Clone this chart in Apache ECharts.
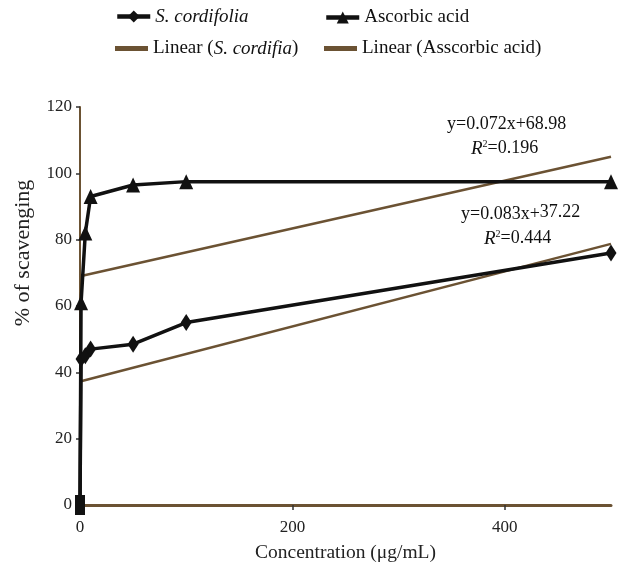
<!DOCTYPE html>
<html>
<head>
<meta charset="utf-8">
<script src="https://cdn.jsdelivr.net/npm/echarts@6/dist/echarts.min.js"></script>
<style>
html,body{margin:0;padding:0;background:#fff;}
#chart-area{width:632px;height:569px;}
</style>
</head>
<body>
<div id="chart-area"></div>
<script>
// 数据
var concentrations = [0, 1, 5, 10, 50, 100, 500];
var cordifoliaValues = [0, 44, 45, 47, 48.5, 55, 76];
var ascorbicValues = [0, 61, 82, 93, 96.5, 97.5, 97.5];
// 趋势线端点
var trendX = [0, 500];
var trendCordifolia = [37.22, 78.72];
var trendAscorbic = [68.98, 104.98];
var xTicks = [0, 200, 400];
var yTicks = [0, 20, 40, 60, 80, 100, 120];

var black = '#111';
var brown = '#6b5233';
var serif = 'Liberation Serif';

function pairs(xs, ys){
	var out = [];
	for(var i=0;i<xs.length;i++){
		if(xs[i]==0 && ys[i]==0){
			//原点处的点画成方块
			out.push({value: [xs[i], ys[i]], symbol: 'rect', symbolSize: [10, 20]});
		}else{
			out.push([xs[i], ys[i]]);
		}
	}
	return out;
}

var legendText = {
	fontFamily: serif,
	fontSize: 19,
	color: '#111',
	rich: {
		i: {fontFamily: serif, fontSize: 19, fontStyle: 'italic', color: '#111'},
		n: {fontFamily: serif, fontSize: 19, color: '#111'}
	}
};
function legendFormatter(name){
	if(name=='S. cordifolia') return '{i|S. cordifolia}';
	if(name=='Linear (S. cordifia)') return '{n|Linear (}{i|S. cordifia}{n|)}';
	return '{n|' + name + '}';
}
function oneLegend(name, left, top, isTrend){
	var l = {
		data: [name],
		left: left,
		top: top,
		padding: 0,
		itemWidth: 33,
		itemHeight: 15,
		itemGap: 0,
		formatter: legendFormatter,
		textStyle: legendText,
		lineStyle: {width: 4.5},
		selectedMode: false
	};
	if(isTrend){
		l.data = [{name: name, icon: 'rect'}];
		l.itemHeight = 5;
		l.itemStyle = {color: brown};
	}
	return l;
}

var myChart = echarts.init(document.getElementById('chart-area'));
var option = {
	animation: false,
	backgroundColor: '#fff',
	legend: [
		oneLegend('S. cordifolia', 115, 7, false),
		oneLegend('Ascorbic acid', 324, 8, false),
		oneLegend('Linear (S. cordifia)', 115, 39, true),
		oneLegend('Linear (Asscorbic acid)', 324, 39, true)
	],
	grid: {left: 80, right: 21, top: 107, bottom: 64},
	xAxis: {
		type: 'value',
		min: 0,
		max: 500,
		interval: 200,
		splitLine: {show: false},
		axisLine: {lineStyle: {color: brown, width: 3}},
		axisTick: {show: true, customValues: xTicks, length: 5, lineStyle: {color: '#333', width: 1.5}},
		axisLabel: {customValues: xTicks, margin: 14, fontFamily: serif, fontSize: 17, color: '#222'},
		name: 'Concentration (μg/mL)',
		nameLocation: 'middle',
		nameGap: 38,
		nameTextStyle: {fontFamily: serif, fontSize: 19.5, color: '#222'}
	},
	yAxis: {
		type: 'value',
		min: 0,
		max: 120,
		interval: 20,
		splitLine: {show: false},
		axisLine: {lineStyle: {color: brown, width: 2}},
		axisTick: {show: true, inside: false, length: 4, lineStyle: {color: '#333', width: 1.5}},
		axisLabel: {customValues: yTicks, margin: 8, fontFamily: serif, fontSize: 17, color: '#222', padding: [8, 0, 0, 0]},
		name: '% of scavenging',
		nameLocation: 'middle',
		nameGap: 46,
		nameTextStyle: {fontFamily: serif, fontSize: 22, color: '#222', padding: [0, 0, 0, 106]}
	},
	series: [
		{
			name: 'S. cordifolia',
			type: 'line',
			data: pairs(concentrations, cordifoliaValues),
			symbol: 'diamond',
			symbolSize: [11, 17],
			lineStyle: {color: black, width: 3.5},
			itemStyle: {color: black},
			z: 5
		},
		{
			name: 'Ascorbic acid',
			type: 'line',
			data: pairs(concentrations, ascorbicValues),
			symbol: 'triangle',
			symbolSize: [14, 15],
			lineStyle: {color: black, width: 3.5},
			itemStyle: {color: black},
			z: 5
		},
		{
			name: 'Linear (S. cordifia)',
			type: 'line',
			data: pairs(trendX, trendCordifolia),
			symbol: 'none',
			lineStyle: {color: brown, width: 2.5},
			itemStyle: {color: brown},
			z: 3
		},
		{
			name: 'Linear (Asscorbic acid)',
			type: 'line',
			data: pairs(trendX, trendAscorbic),
			symbol: 'none',
			lineStyle: {color: brown, width: 2.5},
			itemStyle: {color: brown},
			z: 3
		}
	],
	graphic: [
		{
			type: 'text', left: 447, top: 115,
			style: {text: 'y=0.072x+68.98', fontFamily: serif, fontSize: 18, fill: '#111'}
		},
		{
			type: 'text', left: 471, top: 139,
			style: {
				text: '{i|R}{s|2}{n|=0.196}',
				rich: {
					i: {fontFamily: serif, fontSize: 19, fontStyle: 'italic', fill: '#111'},
					s: {fontFamily: serif, fontSize: 10, fill: '#111', padding: [0, 0, 9, 0]},
					n: {fontFamily: serif, fontSize: 18, fill: '#111'}
				}
			}
		},
		{
			type: 'text', left: 461, top: 203,
			style: {
				text: '{n|y=0.083x+}{r|37.22}',
				rich: {
					n: {fontFamily: serif, fontSize: 18, fill: '#111'},
					r: {fontFamily: serif, fontSize: 18, fill: '#111', padding: [0, 0, 5, 0]}
				}
			}
		},
		{
			type: 'text', left: 484, top: 229,
			style: {
				text: '{i|R}{s|2}{n|=0.444}',
				rich: {
					i: {fontFamily: serif, fontSize: 19, fontStyle: 'italic', fill: '#111'},
					s: {fontFamily: serif, fontSize: 10, fill: '#111', padding: [0, 0, 9, 0]},
					n: {fontFamily: serif, fontSize: 18, fill: '#111'}
				}
			}
		}
	]
};
myChart.setOption(option);
</script>
</body>
</html>
